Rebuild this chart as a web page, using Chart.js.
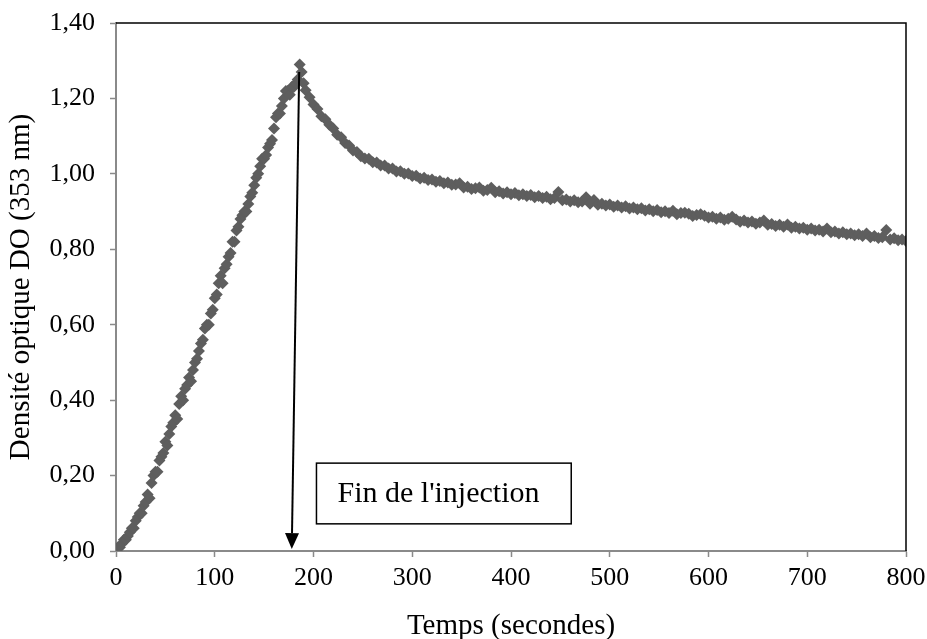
<!DOCTYPE html>
<html lang="fr">
<head>
<meta charset="utf-8">
<title>Densité optique DO (353 nm)</title>
<script src="https://cdn.jsdelivr.net/npm/chart.js@4.4.1/dist/chart.umd.min.js"></script>
<style>
  html, body { margin: 0; padding: 0; background: #fff; }
  #wrap { width: 927px; height: 639px; }
</style>
</head>
<body>
<div id="wrap"><canvas id="do353" width="927" height="639"></canvas></div>
<script>
// injection phase (s, DO)
const tempsMontee = [0, 2, 4, 6, 8, 10, 12, 14, 16, 18, 20, 22, 24, 26, 28, 30, 32, 34, 36, 38,
  40, 42, 44, 46, 48, 50, 52, 54, 56, 58, 60, 62, 64, 66, 68, 70, 72, 74, 76, 78,
  80, 82, 84, 86, 88, 90, 92, 94, 96, 98, 100, 102, 104, 106, 108, 110, 112, 114, 116, 118,
  120, 122, 124, 126, 128, 130, 132, 134, 136, 138, 140, 142, 144, 146, 148, 150, 152, 154, 156, 158,
  160, 162, 164, 166, 168, 170, 172, 174, 176, 178, 180, 182, 184, 186, 188];
const doMontee = [0.00, 0.01, 0.01, 0.02, 0.03, 0.03, 0.04, 0.05, 0.06, 0.06, 0.08, 0.09, 0.10, 0.10, 0.12, 0.13, 0.15, 0.14, 0.18, 0.20,
  0.21, 0.21, 0.24, 0.25, 0.26, 0.29, 0.28, 0.31, 0.33, 0.34, 0.36, 0.35, 0.39, 0.41, 0.40, 0.43, 0.44, 0.46, 0.45, 0.48,
  0.50, 0.51, 0.53, 0.55, 0.56, 0.59, 0.60, 0.60, 0.63, 0.64, 0.67, 0.68, 0.71, 0.73, 0.71, 0.75, 0.76, 0.78, 0.79, 0.82,
  0.82, 0.85, 0.86, 0.88, 0.89, 0.90, 0.90, 0.92, 0.94, 0.95, 0.97, 0.99, 1.00, 1.02, 1.04, 1.04, 1.05, 1.07, 1.08, 1.09,
  1.12, 1.15, 1.16, 1.16, 1.18, 1.20, 1.22, 1.22, 1.21, 1.23, 1.23, 1.24, 1.25, 1.29, 1.27];

// after injection (s, DO)
const tempsDecroissance = [190, 192, 196, 200, 204, 208, 212, 216, 220, 224, 228, 232, 236, 240, 244, 248,
  252, 256, 260, 264, 268, 272, 276, 280, 284, 288, 292, 296, 300, 304, 308, 312, 316, 320, 324, 328,
  332, 336, 340, 344, 348, 352, 356, 360, 364, 368, 372, 376, 380, 384, 388, 392, 396, 400, 404, 408,
  412, 416, 420, 424, 428, 432, 436, 440, 444, 448, 452, 456, 460, 464, 468, 472, 476, 480, 484, 488,
  492, 496, 500, 504, 508, 512, 516, 520, 524, 528, 532, 536, 540, 544, 548, 552, 556, 560, 564, 568,
  572, 576, 580, 584, 588, 592, 596, 600, 604, 608, 612, 616, 620, 624, 628, 632, 636, 640, 644, 648,
  652, 656, 660, 664, 668, 672, 676, 680, 684, 688, 692, 696, 700, 704, 708, 712, 716, 720, 724, 728,
  732, 736, 740, 744, 748, 752, 756, 760, 764, 768, 772, 776, 780, 784, 788, 792, 796, 800];
const doDecroissance = [1.240, 1.222, 1.203, 1.184, 1.172, 1.153, 1.145, 1.130, 1.120, 1.104, 1.097, 1.082, 1.075, 1.062, 1.058, 1.047,
  1.041, 1.040, 1.031, 1.030, 1.022, 1.022, 1.014, 1.014, 1.006, 1.007, 1.000, 1.001, 0.994, 0.995, 0.988, 0.990, 0.984, 0.985, 0.979, 0.981,
  0.975, 0.977, 0.971, 0.972, 0.975, 0.964, 0.966, 0.960, 0.962, 0.964, 0.955, 0.957, 0.963, 0.951, 0.954, 0.948, 0.951, 0.946, 0.949, 0.943,
  0.946, 0.941, 0.944, 0.938, 0.941, 0.936, 0.939, 0.933, 0.936, 0.952, 0.930, 0.932, 0.927, 0.930, 0.925, 0.927, 0.938, 0.921, 0.931, 0.918,
  0.921, 0.916, 0.919, 0.913, 0.916, 0.911, 0.914, 0.908, 0.911, 0.906, 0.909, 0.903, 0.906, 0.901, 0.904, 0.898, 0.901, 0.896, 0.902, 0.893,
  0.896, 0.897, 0.894, 0.888, 0.891, 0.893, 0.889, 0.884, 0.886, 0.881, 0.884, 0.878, 0.881, 0.886, 0.879, 0.873, 0.876, 0.871, 0.874, 0.868,
  0.871, 0.876, 0.865, 0.867, 0.862, 0.865, 0.860, 0.866, 0.857, 0.860, 0.855, 0.857, 0.852, 0.855, 0.850, 0.852, 0.847, 0.855, 0.845, 0.847,
  0.842, 0.845, 0.840, 0.842, 0.837, 0.840, 0.835, 0.842, 0.832, 0.835, 0.830, 0.832, 0.851, 0.826, 0.829, 0.824, 0.826, 0.822];

const xTicks = [0, 100, 200, 300, 400, 500, 600, 700, 800];
const yTicks = [0, 0.2, 0.4, 0.6, 0.8, 1.0, 1.2, 1.4];

// annotation, in data units
const fleche = { x0: 185.5, y0: 1.27, x1: 178, y1: 0.005 };
const cadreTexte = { x0: 203, x1: 461, yHaut: 0.233, yBas: 0.072, texte: "Fin de l'injection" };

const points = tempsMontee.map((t, i) => ({ x: t, y: doMontee[i] }))
  .concat(tempsDecroissance.map((t, i) => ({ x: t, y: doDecroissance[i] })));

const police = "'Liberation Serif', 'Times New Roman', serif";
Chart.defaults.font.family = police;
Chart.defaults.font.size = 26;
Chart.defaults.color = '#000';

const gris = '#8a8a8a';

const annotations = {
  id: 'annotations',
  afterDatasetsDraw(chart) {
    const { ctx, chartArea: a, scales: { x, y } } = chart;
    ctx.save();
    // top and right frame
    ctx.strokeStyle = '#000';
    ctx.lineWidth = 1.5;
    ctx.beginPath();
    ctx.moveTo(a.left, a.top);
    ctx.lineTo(a.right, a.top);
    ctx.lineTo(a.right, a.bottom);
    ctx.stroke();

    // arrow
    const ax0 = x.getPixelForValue(fleche.x0), ay0 = y.getPixelForValue(fleche.y0);
    const ax1 = x.getPixelForValue(fleche.x1), ay1 = y.getPixelForValue(fleche.y1);
    const ang = Math.atan2(ay1 - ay0, ax1 - ax0);
    const len = 16, half = 7;
    const bx = ax1 - len * Math.cos(ang), by = ay1 - len * Math.sin(ang);
    ctx.lineWidth = 2;
    ctx.beginPath();
    ctx.moveTo(ax0, ay0);
    ctx.lineTo(bx, by);
    ctx.stroke();
    ctx.fillStyle = '#000';
    ctx.beginPath();
    ctx.moveTo(ax1, ay1);
    ctx.lineTo(bx + half * Math.sin(ang), by - half * Math.cos(ang));
    ctx.lineTo(bx - half * Math.sin(ang), by + half * Math.cos(ang));
    ctx.closePath();
    ctx.fill();

    // text box
    const l = x.getPixelForValue(cadreTexte.x0), r = x.getPixelForValue(cadreTexte.x1);
    const t = y.getPixelForValue(cadreTexte.yHaut), b = y.getPixelForValue(cadreTexte.yBas);
    ctx.fillStyle = '#fff';
    ctx.fillRect(l, t, r - l, b - t);
    ctx.lineWidth = 1.5;
    ctx.strokeRect(l, t, r - l, b - t);
    ctx.fillStyle = '#000';
    ctx.font = '30px ' + police;
    ctx.textBaseline = 'middle';
    ctx.textAlign = 'left';
    ctx.fillText(cadreTexte.texte, l + 21, (t + b) / 2 + 1);
    ctx.restore();
  }
};

new Chart('do353', {
  type: 'scatter',
  data: {
    datasets: [{
      label: 'DO',
      data: points,
      pointStyle: 'rectRot',
      pointRadius: 6,
      backgroundColor: '#5e5e5e',
      borderColor: '#5e5e5e',
      borderWidth: 0
    }]
  },
  options: {
    responsive: false,
    animation: false,
    layout: { padding: { left: 0, top: 23, right: 21, bottom: 0 } },
    plugins: { legend: { display: false }, tooltip: { enabled: false } },
    scales: {
      x: {
        type: 'linear',
        min: 0,
        max: 800,
        afterBuildTicks: s => { s.ticks = xTicks.map(v => ({ value: v })); },
        afterFit: s => { s.height = 88; s.paddingLeft = 0; s.paddingRight = 0; },
        grid: { drawOnChartArea: false, color: gris, tickLength: 6, tickWidth: 1.5 },
        border: { color: gris, width: 2 },
        ticks: { padding: 6, maxRotation: 0 },
        title: { display: true, text: 'Temps (secondes)', font: { size: 29, lineHeight: 1 }, padding: { top: 0, bottom: -2 } }
      },
      y: {
        type: 'linear',
        min: 0,
        max: 1.4,
        afterBuildTicks: s => { s.ticks = yTicks.map(v => ({ value: v })); },
        afterFit: s => { s.width = 116; s.paddingTop = 0; s.paddingBottom = 0; },
        grid: { drawOnChartArea: false, color: gris, tickLength: 6, tickWidth: 1.5 },
        border: { color: gris, width: 2 },
        ticks: { padding: 15, callback: v => v.toFixed(2).replace('.', ',') },
        title: { display: true, text: 'Densité optique DO (353 nm)', font: { size: 29, lineHeight: 1 }, padding: { top: 7 } }
      }
    }
  },
  plugins: [annotations]
});
</script>
</body>
</html>
